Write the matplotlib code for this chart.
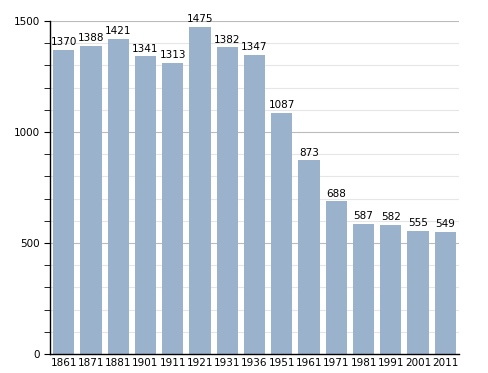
import matplotlib
matplotlib.use('Agg')
import matplotlib.pyplot as plt
import numpy as np

years = ['1861', '1871', '1881', '1901', '1911', '1921', '1931', '1936',
         '1951', '1961', '1971', '1981', '1991', '2001', '2011']
population = [1370, 1388, 1421, 1341, 1313, 1475, 1382, 1347,
              1087, 873, 688, 587, 582, 555, 549]

fig = plt.figure(figsize=(4.88, 3.73), dpi=100)
ax = fig.add_axes([50/488, 1 - 354/373, 409/488, 333/373])

x = np.arange(len(years))
ax.bar(x, population, width=0.78, color='#9bb2cc', zorder=2)

for xi, v in zip(x, population):
    ax.text(xi, v + 12, str(v), ha='center', va='bottom', fontsize=7.5,
            color='black', zorder=3)

ax.set_xlim(-0.5, len(years) - 0.5)
ax.set_ylim(0, 1500)
ax.set_yticks([0, 500, 1000, 1500])
ax.set_yticks(np.arange(0, 1501, 100), minor=True)
ax.set_xticks(x)
ax.set_xticklabels(years, fontsize=7.5)
ax.tick_params(axis='y', labelsize=7.5, length=4, direction='out')
ax.tick_params(axis='y', which='minor', length=4)
ax.tick_params(axis='x', length=0, pad=3)

for v in np.arange(100, 1501, 100):
    c = '#bbbbbb' if v % 500 == 0 else '#e6e6e6'
    ax.axhline(v, color=c, lw=0.8, zorder=1)

ax.spines['top'].set_visible(False)
ax.spines['right'].set_visible(False)
ax.spines['left'].set_linewidth(1.0)
ax.spines['bottom'].set_linewidth(1.0)

fig.savefig('out.png', dpi=100)
